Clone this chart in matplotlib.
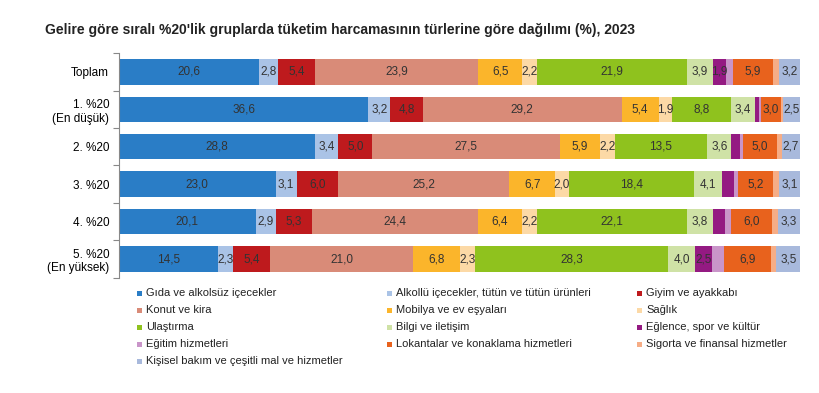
import matplotlib.pyplot as plt
from matplotlib.patches import Rectangle
import numpy as np

plt.rcParams['font.family'] = ['Liberation Sans', 'DejaVu Sans']

groups = ["Toplam", "1. %20\n(En düşük)", "2. %20", "3. %20", "4. %20", "5. %20\n(En yüksek)"]

categories = [
    "Gıda ve alkolsüz içecekler",
    "Alkollü içecekler, tütün ve tütün ürünleri",
    "Giyim ve ayakkabı",
    "Konut ve kira",
    "Mobilya ve ev eşyaları",
    "Sağlık",
    "Ulaştırma",
    "Bilgi ve iletişim",
    "Eğlence, spor ve kültür",
    "Eğitim hizmetleri",
    "Lokantalar ve konaklama hizmetleri",
    "Sigorta ve finansal hizmetler",
    "Kişisel bakım ve çeşitli mal ve hizmetler",
]

gida       = [20.6, 36.6, 28.8, 23.0, 20.1, 14.5]
alkollu    = [2.8, 3.2, 3.4, 3.1, 2.9, 2.3]
giyim      = [5.4, 4.8, 5.0, 6.0, 5.3, 5.4]
konut      = [23.9, 29.2, 27.5, 25.2, 24.4, 21.0]
mobilya    = [6.5, 5.4, 5.9, 6.7, 6.4, 6.8]
saglik     = [2.2, 1.9, 2.2, 2.0, 2.2, 2.3]
ulastirma  = [21.9, 8.8, 13.5, 18.4, 22.1, 28.3]
bilgi      = [3.9, 3.4, 3.6, 4.1, 3.8, 4.0]
eglence    = [1.9, 0.7, 1.2, 1.7, 1.8, 2.5]
egitim     = [1.0, 0.2, 0.5, 0.6, 0.8, 1.7]
lokanta    = [5.9, 3.0, 5.0, 5.2, 6.0, 6.9]
sigorta    = [0.8, 0.3, 0.7, 0.9, 0.9, 0.8]
kisisel    = [3.2, 2.5, 2.7, 3.1, 3.3, 3.5]

series = [gida, alkollu, giyim, konut, mobilya, saglik, ulastirma, bilgi,
          eglence, egitim, lokanta, sigorta, kisisel]

colors = ["#2a7dc6", "#aac3e6", "#be1a1d", "#d98b78", "#fbb52b", "#fcd9a6",
          "#8fc21e", "#cfe2a6", "#941a82", "#c995c9", "#e8621d", "#f6ad86",
          "#a8b9dc"]

W, H = 820, 393
fig = plt.figure(figsize=(W / 100, H / 100), dpi=100)
ax = fig.add_axes([0.145, 0.293, 0.831, 0.572])

y = np.arange(len(groups))
left = np.zeros(len(groups))
for vals, col in zip(series, colors):
    vals = np.array(vals)
    ax.barh(y, vals, left=left, height=0.68, color=col, edgecolor='none')
    for yi, (l, v) in enumerate(zip(left, vals)):
        if v >= 1.9:
            ax.text(l + v / 2, yi, f"{v:.1f}".replace('.', ','), ha='center',
                    va='center', fontsize=8.5, color='#333333')
    left += vals

ax.set_xlim(0, left.max())
ax.set_ylim(len(groups) - 0.5, -0.5)
ax.set_yticks(y)
ax.set_yticklabels(groups, fontsize=8.5, linespacing=1.2)
ax.tick_params(axis='y', which='major', length=0, pad=7)
ax.set_yticks(np.arange(-0.5, len(groups), 1), minor=True)
ax.tick_params(axis='y', which='minor', length=4, color='#888888', width=0.8)
ax.set_xticks([])
for s in ['top', 'right', 'bottom']:
    ax.spines[s].set_visible(False)
ax.spines['left'].set_color('#888888')
ax.spines['left'].set_linewidth(0.8)

fig.text(45 / W, 1 - 30 / H,
         "Gelire göre sıralı %20'lik gruplarda tüketim harcamasının türlerine göre dağılımı (%), 2023",
         fontsize=10, fontweight='bold', ha='left', va='center', color='#222222')

# legend laid out row-wise in three columns, as in the reference
col_x = [137, 387, 637]
row_y0, row_dy = 293, 17
sq = 5
for i, (name, c) in enumerate(zip(categories, colors)):
    r, k = divmod(i, 3)
    xp = col_x[k]
    yp = row_y0 + r * row_dy
    fig.patches.append(Rectangle((xp / W, 1 - (yp + sq / 2) / H), sq / W, sq / H,
                                 transform=fig.transFigure, facecolor=c,
                                 edgecolor='none'))
    fig.text((xp + sq + 4) / W, 1 - yp / H, name, fontsize=8, ha='left',
             va='center', color='#222222')

fig.savefig("out.png", dpi=100)
